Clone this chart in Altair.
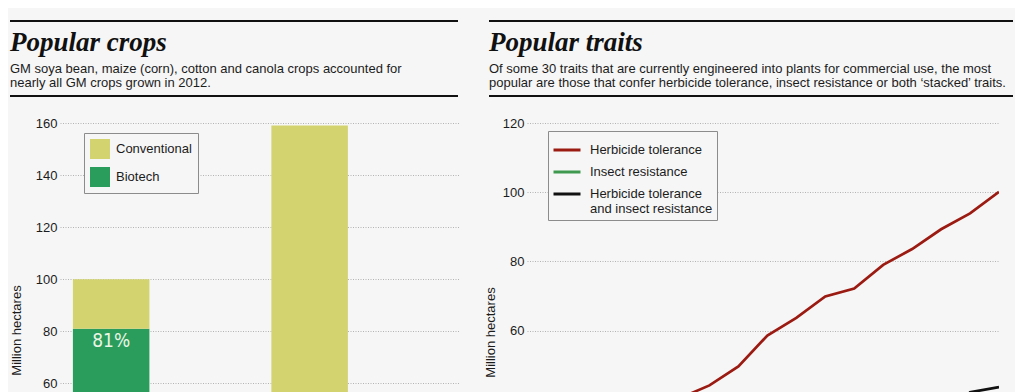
import altair as alt
import pandas as pd

# ---------------- data ----------------
crops = ["Soybean", "Cotton", "Maize", "Canola"]
biotech = [81, 24, 55, 9]
conventional = [19, 6, 104, 22]

years = list(range(1996, 2013))
herbicide = [0.6, 6.9, 19.8, 28.1, 32.7, 40.6, 44.2, 49.7, 58.6, 63.7, 69.9, 72.2, 79.0, 83.6, 89.3, 93.9, 100.1]
insect = [1.1, 4.0, 7.7, 8.9, 8.3, 7.8, 10.1, 12.2, 15.6, 16.2, 19.0, 20.3, 15.2, 21.7, 26.3, 23.9, 26.1]
stacked = [0.0, 0.0, 0.3, 2.9, 3.2, 2.5, 2.2, 5.8, 6.8, 10.1, 13.1, 21.8, 26.9, 28.7, 32.3, 42.2, 43.7]

crop_types = ["Conventional", "Biotech"]
crop_colors = ["#d3d36f", "#2a9d5c"]
trait_names = ["Herbicide tolerance", "Insect resistance", "Herbicide tolerance and insect resistance"]
trait_colors = ["#9b1b12", "#3f9a4f", "#111111"]

left_title = "Popular crops"
left_sub = ["GM soya bean, maize (corn), cotton and canola crops accounted for",
            "nearly all GM crops grown in 2012."]
right_title = "Popular traits"
right_sub = ["Of some 30 traits that are currently engineered into plants for commercial use, the most",
             "popular are those that confer herbicide tolerance, insect resistance or both \u2018stacked\u2019 traits."]
y_title = "Million hectares"
left_ticks = [60, 80, 100, 120, 140, 160]
right_ticks = [60, 80, 100, 120]
left_domain = [56.3, 160]
right_domain = [42, 120]

# ---------------- tables ----------------
rows = []
for c, b, v in zip(crops, biotech, conventional):
    rows.append({"crop": c, "type": "Biotech", "value": b, "ord": 0})
    rows.append({"crop": c, "type": "Conventional", "value": v, "ord": 1})
crop_df = pd.DataFrame(rows)
pct_df = pd.DataFrame({
    "crop": crops,
    "value": biotech,
    "label": [f"{round(100 * b / (b + v))}%" for b, v in zip(biotech, conventional)],
})

trows = []
for name, series in zip(trait_names, [herbicide, insect, stacked]):
    for yr, val in zip(years, series):
        trows.append({"year": yr, "value": val, "trait": name})
trait_df = pd.DataFrame(trows)

BG = "#f6f6f6"
SANS = "Liberation Sans"
TXT = "#1c1c1c"
one = alt.Data(values=[{"k": 1}])


def header(x0, x1, title, sub):
    r1 = alt.Chart(one).mark_rule(strokeWidth=2.2, color="#111").encode(
        x=alt.value(x0), x2=alt.value(x1), y=alt.value(-102))
    r2 = alt.Chart(one).mark_rule(strokeWidth=2.2, color="#111").encode(
        x=alt.value(x0), x2=alt.value(x1), y=alt.value(-27))
    t = alt.Chart(one).mark_text(text=title, font="Liberation Serif", fontStyle="italic",
                                 fontWeight="bold", fontSize=27, align="left",
                                 baseline="alphabetic", color="#111").encode(
        x=alt.value(x0), y=alt.value(-72))
    s = alt.Chart(one).mark_text(text=sub, font=SANS, fontSize=13, lineHeight=14,
                                 align="left", baseline="alphabetic", color=TXT).encode(
        x=alt.value(x0), y=alt.value(-50.5))
    return [r1, r2, t, s]


def yaxis(vals, tx, ty):
    return alt.Axis(values=vals, grid=True, gridDash=[1, 1.5], gridColor="#b3b3b3",
                    gridWidth=1, domain=False, ticks=False, labelPadding=3,
                    labelFont=SANS, labelFontSize=13, labelColor=TXT,
                    title=y_title, titleFont=SANS, titleFontSize=13,
                    titleFontWeight="normal", titleColor=TXT, titleAngle=270,
                    titleX=tx, titleY=ty, titleAlign="center", titleBaseline="middle")


# ---------------- left panel ----------------
xband = alt.X("crop:N", sort=crops, axis=None,
              scale=alt.Scale(paddingInner=0.229, paddingOuter=0.13))
yleft = alt.Scale(domain=left_domain, nice=False, zero=False)

bars = alt.Chart(crop_df).mark_bar(clip=True).encode(
    x=xband,
    y=alt.Y("value:Q", stack="zero", scale=yleft, axis=yaxis(left_ticks, -44, 207)),
    color=alt.Color("type:N", scale=alt.Scale(domain=crop_types, range=crop_colors),
                    legend=alt.Legend(title=None, orient="none", legendX=24, legendY=10,
                                      symbolType="square", symbolSize=400,
                                      symbolStrokeWidth=0, symbolOpacity=1,
                                      labelFont=SANS, labelFontSize=13, labelColor=TXT,
                                      labelOffset=6, padding=6, rowPadding=8,
                                      strokeColor="#8c8c8c", fillColor=BG)),
    order=alt.Order("ord:Q"),
)
pct = alt.Chart(pct_df).transform_filter(
    alt.datum.value > left_domain[0] + 6
).mark_text(
    clip=True, baseline="middle", dy=12,
    font="DejaVu Sans Condensed, Liberation Sans Narrow, sans-serif",
    fontSize=19, color="#eaf5e6").encode(
    x=xband, y=alt.Y("value:Q", scale=yleft), text="label:N")

left = alt.layer(bars, pct, *header(-50, 398, left_title, left_sub)).properties(
    width=400, height=270)

# ---------------- right panel ----------------
lines = alt.Chart(trait_df).mark_line(clip=True, strokeWidth=2.7).encode(
    x=alt.X("year:Q", axis=None, scale=alt.Scale(domain=[1995.7, 2012], nice=False, zero=False)),
    y=alt.Y("value:Q", scale=alt.Scale(domain=right_domain, nice=False, zero=False),
            axis=yaxis(right_ticks, -37, 209)),
    color=alt.Color("trait:N", sort=trait_names,
                    scale=alt.Scale(domain=trait_names, range=trait_colors),
                    legend=alt.Legend(title=None, orient="none", legendX=21, legendY=8,
                                      symbolType="stroke", symbolSize=729,
                                      symbolStrokeWidth=3,
                                      labelFont=SANS, labelFontSize=13, labelColor=TXT,
                                      labelOffset=8, padding=4, rowPadding=-6,
                                      labelExpr="datum.label == 'Herbicide tolerance and insect resistance' ? ['Herbicide tolerance', 'and insect resistance'] : datum.label",
                                      strokeColor="#8c8c8c", fillColor=BG)),
)

right = alt.layer(lines, *header(-38, 486, right_title, right_sub)).properties(
    width=472, height=270)

chart = alt.hconcat(left, right, spacing=67, bounds="flush").resolve_scale(
    color="independent").resolve_legend(color="independent").properties(
    padding={"left": 0, "top": 11, "right": 0, "bottom": 0}
).configure(background=BG).configure_view(stroke=None)

chart.save("out.html", embed_options={"renderer": "svg", "actions": False})
